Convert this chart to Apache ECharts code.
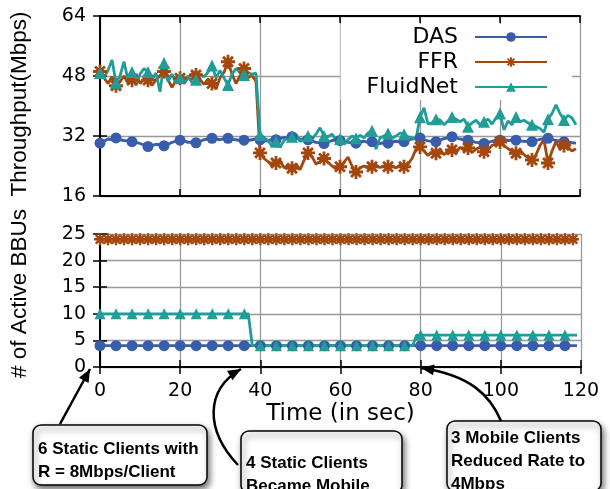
<!DOCTYPE html>
<html>
<head>
<meta charset="utf-8">
<script src="https://cdn.jsdelivr.net/npm/echarts@6/dist/echarts.min.js"></script>
<style>
  html, body { margin: 0; padding: 0; background: #fff; }
  #chart { width: 610px; height: 489px; }
</style>
</head>
<body>
<div id="chart"></div>
<script>
// time in seconds, one sample per second
const timeSec = [
  0, 1, 2, 3, 4, 5, 6, 7, 8, 9, 10, 11, 12, 13, 14, 15, 16, 17, 18, 19,
  20, 21, 22, 23, 24, 25, 26, 27, 28, 29, 30, 31, 32, 33, 34, 35, 36, 37, 38, 39,
  40, 41, 42, 43, 44, 45, 46, 47, 48, 49, 50, 51, 52, 53, 54, 55, 56, 57, 58, 59,
  60, 61, 62, 63, 64, 65, 66, 67, 68, 69, 70, 71, 72, 73, 74, 75, 76, 77, 78, 79,
  80, 81, 82, 83, 84, 85, 86, 87, 88, 89, 90, 91, 92, 93, 94, 95, 96, 97, 98, 99,
  100, 101, 102, 103, 104, 105, 106, 107, 108, 109, 110, 111, 112, 113, 114, 115, 116, 117, 118, 119
]

// throughput (Mbps)
const dasThroughput = [
  30.1, 30.6, 31.2, 31.0, 31.5, 31.0, 30.8, 30.7, 30.5, 30.3, 30.0, 29.6, 29.2, 29.5, 29.8, 29.6, 29.4, 29.8, 30.3, 30.6,
  30.9, 30.8, 30.3, 30.4, 30.2, 30.6, 31.0, 31.2, 31.4, 31.2, 31.0, 31.3, 31.4, 31.1, 31.0, 30.8, 30.9, 30.8, 31.0, 31.2,
  31.0, 30.6, 30.8, 31.1, 31.0, 31.3, 31.6, 31.5, 31.8, 31.4, 31.2, 31.0, 31.0, 30.7, 30.3, 30.2, 30.0, 30.4, 30.8, 31.0,
  30.8, 30.5, 30.3, 30.2, 30.1, 30.4, 30.6, 30.3, 30.5, 30.2, 30.0, 30.2, 30.1, 30.4, 30.6, 30.4, 30.5, 30.9, 31.2, 31.3,
  31.5, 31.0, 30.7, 30.6, 30.5, 30.9, 31.3, 31.5, 31.8, 31.5, 31.2, 31.0, 30.9, 30.6, 30.3, 30.2, 30.0, 30.3, 30.6, 30.8,
  30.9, 31.0, 30.8, 30.9, 30.9, 30.7, 30.6, 30.5, 30.5, 30.8, 31.1, 31.3, 31.4, 31.1, 30.8, 30.6, 30.5, 30.4, 30.2, 30.1
]
const ffrThroughput = [
  49.2, 47.5, 46.0, 47.8, 45.4, 46.5, 48.0, 46.2, 46.9, 48.5, 46.0, 47.2, 46.9, 45.5, 47.0, 48.0, 49.2, 47.0, 45.0, 46.8,
  47.4, 46.0, 47.5, 48.6, 48.3, 47.0, 45.8, 47.2, 46.0, 44.5, 47.5, 49.0, 51.8, 48.5, 46.0, 48.0, 50.0, 47.5, 48.2, 46.5,
  27.5, 26.0, 25.2, 24.0, 24.8, 25.5, 23.5, 24.2, 23.4, 24.5, 23.0, 25.5, 27.5, 26.5, 24.5, 25.2, 26.0, 25.0, 24.0, 23.2,
  23.8, 25.0, 26.4, 24.0, 22.4, 23.5, 24.0, 23.5, 23.8, 24.2, 23.6, 24.0, 23.8, 24.0, 23.5, 24.2, 23.8, 24.5, 26.0, 28.5,
  29.1, 28.0, 26.8, 27.8, 27.4, 28.5, 27.0, 28.0, 28.3, 27.5, 29.0, 28.2, 28.8, 27.6, 28.5, 29.0, 27.8, 28.3, 29.5, 29.8,
  30.4, 29.5, 28.6, 28.0, 27.4, 28.2, 27.0, 26.2, 25.6, 27.0, 29.5, 31.0, 24.8, 28.0, 30.5, 28.5, 29.5, 29.0, 28.0, 28.6
]
const fluidThroughput = [
  48.8, 47.5, 49.5, 52.3, 46.2, 48.0, 51.8, 47.0, 49.1, 45.5, 48.5, 50.0, 49.1, 47.0, 48.8, 43.8, 51.5, 46.5, 48.5, 46.0,
  47.5, 46.0, 48.0, 46.2, 47.0, 48.5, 47.8, 49.0, 50.8, 47.5, 49.5, 47.5, 45.6, 48.5, 50.0, 49.0, 48.3, 48.8, 48.5, 48.8,
  32.3, 31.5, 30.8, 29.3, 30.5, 29.0, 30.8, 31.5, 31.8, 32.5, 30.5, 31.5, 32.0, 31.2, 32.5, 34.2, 32.0, 31.8, 32.5, 31.0,
  31.2, 29.8, 31.0, 32.0, 31.4, 32.2, 31.5, 32.8, 33.4, 28.5, 31.5, 32.0, 32.7, 31.5, 32.0, 32.8, 32.5, 31.8, 31.5, 31.2,
  37.0, 39.5, 35.2, 35.5, 36.5, 36.3, 35.0, 36.0, 37.1, 36.5, 35.8, 36.5, 34.5, 35.5, 36.2, 35.0, 35.8, 36.5, 35.2, 36.8,
  38.0, 33.6, 36.0, 35.0, 37.1, 35.8, 36.2, 35.5, 35.0, 34.5, 34.0, 33.0, 36.5, 38.0, 40.3, 38.0, 36.3, 37.5, 36.8, 35.0
]

// number of active BBUs
const dasBBUs = [
  4, 4, 4, 4, 4, 4, 4, 4, 4, 4, 4, 4, 4, 4, 4, 4, 4, 4, 4, 4,
  4, 4, 4, 4, 4, 4, 4, 4, 4, 4, 4, 4, 4, 4, 4, 4, 4, 4, 4, 4,
  4, 4, 4, 4, 4, 4, 4, 4, 4, 4, 4, 4, 4, 4, 4, 4, 4, 4, 4, 4,
  4, 4, 4, 4, 4, 4, 4, 4, 4, 4, 4, 4, 4, 4, 4, 4, 4, 4, 4, 4,
  4, 4, 4, 4, 4, 4, 4, 4, 4, 4, 4, 4, 4, 4, 4, 4, 4, 4, 4, 4,
  4, 4, 4, 4, 4, 4, 4, 4, 4, 4, 4, 4, 4, 4, 4, 4, 4, 4, 4, 4
]
const ffrBBUs = [
  24, 24, 24, 24, 24, 24, 24, 24, 24, 24, 24, 24, 24, 24, 24, 24, 24, 24, 24, 24,
  24, 24, 24, 24, 24, 24, 24, 24, 24, 24, 24, 24, 24, 24, 24, 24, 24, 24, 24, 24,
  24, 24, 24, 24, 24, 24, 24, 24, 24, 24, 24, 24, 24, 24, 24, 24, 24, 24, 24, 24,
  24, 24, 24, 24, 24, 24, 24, 24, 24, 24, 24, 24, 24, 24, 24, 24, 24, 24, 24, 24,
  24, 24, 24, 24, 24, 24, 24, 24, 24, 24, 24, 24, 24, 24, 24, 24, 24, 24, 24, 24,
  24, 24, 24, 24, 24, 24, 24, 24, 24, 24, 24, 24, 24, 24, 24, 24, 24, 24, 24, 24
]
const fluidBBUs = [
  10, 10, 10, 10, 10, 10, 10, 10, 10, 10, 10, 10, 10, 10, 10, 10, 10, 10, 10, 10,
  10, 10, 10, 10, 10, 10, 10, 10, 10, 10, 10, 10, 10, 10, 10, 10, 10, 10, 4, 4,
  4, 4, 4, 4, 4, 4, 4, 4, 4, 4, 4, 4, 4, 4, 4, 4, 4, 4, 4, 4,
  4, 4, 4, 4, 4, 4, 4, 4, 4, 4, 4, 4, 4, 4, 4, 4, 4, 4, 4, 6,
  6, 6, 6, 6, 6, 6, 6, 6, 6, 6, 6, 6, 6, 6, 6, 6, 6, 6, 6, 6,
  6, 6, 6, 6, 6, 6, 6, 6, 6, 6, 6, 6, 6, 6, 6, 6, 6, 6, 6, 6
]

const throughputTicks = [16, 32, 48, 64]
const bbuTicks = [0, 5, 10, 15, 20, 25]
const timeTicks = [0, 20, 40, 60, 80, 100, 120]
const seriesNames = ['DAS', 'FFR', 'FluidNet']

const colors = { DAS: '#3a5cad', FFR: '#a3470d', FluidNet: '#1f9d96' }
// asterisk marker (plus + cross)
const starPath = 'path://M-1,-5L1,-5L1,5L-1,5Z M-5,-1L5,-1L5,1L-5,1Z ' +
  'M4.24,2.83L2.83,4.24L-4.24,-2.83L-2.83,-4.24Z M-2.83,4.24L-4.24,2.83L2.83,-4.24L4.24,-2.83Z'

const font = 'Liberation Sans'
const wideFont = 'DejaVu Sans'
const gridLine = { show: true, lineStyle: { color: '#999', width: 1.3 } }
const blackLine = { show: true, lineStyle: { color: '#000', width: 2 } }
const tickIn = { show: true, inside: true, length: 7, lineStyle: { color: '#000', width: 1.5 } }

function xAxisPair(grid, withLabels) {
  const base = {
    gridIndex: grid, type: 'value',
    min: timeTicks[0], max: timeTicks[timeTicks.length - 1], interval: timeTicks[1] - timeTicks[0],
    axisLine: blackLine, axisTick: tickIn,
  }
  return [
    Object.assign({}, base, {
      position: 'bottom',
      splitLine: gridLine,
      axisLabel: { show: withLabels, fontSize: 19, fontFamily: wideFont, color: '#000', margin: 15 },
      name: withLabels ? 'Time (in sec)' : '',
      nameLocation: 'middle', nameGap: 36,
      nameTextStyle: { fontSize: 23, fontFamily: wideFont, color: '#000' },
    }),
    Object.assign({}, base, { position: 'top', splitLine: { show: false }, axisLabel: { show: false } }),
  ]
}

function yAxisPair(grid, ticks, name, namePad) {
  const base = {
    gridIndex: grid, type: 'value',
    min: ticks[0], max: ticks[ticks.length - 1], interval: ticks[1] - ticks[0],
    axisLine: blackLine, axisTick: tickIn,
  }
  return [
    Object.assign({}, base, {
      position: 'left',
      splitLine: gridLine,
      axisLabel: { fontSize: 19, fontFamily: wideFont, color: '#000', margin: 14 },
      name: name, nameLocation: 'middle', nameGap: 69,
      nameTextStyle: { fontSize: 22.5, fontFamily: font, color: '#000', padding: [0, 0, 0, namePad] },
    }),
    Object.assign({}, base, { position: 'right', splitLine: { show: false }, axisLabel: { show: false } }),
  ]
}

function line(name, values, axis, symbol, size, every) {
  const color = colors[name]
  return {
    name: name, type: 'line',
    xAxisIndex: axis, yAxisIndex: axis,
    data: timeSec.map((t, i) => [t, values[i]]),
    symbol: symbol,
    showAllSymbol: true,
    symbolSize: (v, p) => (p.dataIndex % every === 0 ? size : 0),
    lineStyle: { color: color, width: 2.8 },
    itemStyle: { color: color },
    animation: false,
  }
}

const myChart = echarts.init(document.getElementById('chart'))
myChart.setOption({
  backgroundColor: '#fff',
  animation: false,
  grid: [
    { left: 97, top: 16, width: 483, height: 180 },
    { left: 96, top: 234, width: 485, height: 133 },
  ],
  xAxis: [...xAxisPair(0, false), ...xAxisPair(1, true)],
  yAxis: [...yAxisPair(0, throughputTicks, 'Throughput(Mbps)', 4), ...yAxisPair(1, bbuTicks, '# of Active BBUs', 14)],
  legend: {
    data: seriesNames,
    orient: 'vertical', align: 'right',
    right: 38, top: 24,
    itemWidth: 72, itemHeight: 12, itemGap: 3,
    backgroundColor: '#fff',
    padding: [2, 24, 2, 26],
    textStyle: { fontSize: 22, fontFamily: wideFont, color: '#000', padding: [0, 12, 0, 0] },
  },
  series: [
    line('DAS', dasThroughput, 0, 'circle', 11, 4),
    line('FFR', ffrThroughput, 0, starPath, 14, 4),
    line('FluidNet', fluidThroughput, 0, 'triangle', 12, 4),
    // mirror axes take indices 1 and 3, bottom plot uses index 2
    line('DAS', dasBBUs, 2, 'circle', 11, 4),
    line('FFR', ffrBBUs, 2, starPath, 12, 2),
    line('FluidNet', fluidBBUs, 2, 'triangle', 11, 4),
  ],
})

// callout boxes with arrows pointing at the time axis
const callouts = [
  { box: [33, 425, 174, 60], textAt: [38, 438], lines: ['6 Static Clients with', 'R = 8Mbps/Client'],
    path: [[60, 424], [90, 369]] },
  { box: [241, 431, 161, 62], textAt: [246, 452], lines: ['4 Static Clients', 'Became Mobile'],
    path: [[238, 465], [205, 430], [205, 390], [241, 369]] },
  { box: [447, 421, 154, 70], textAt: [451, 427], lines: ['3 Mobile Clients', 'Reduced Rate to', '4Mbps'],
    path: [[501, 421], [490, 395], [470, 375], [421, 368]] },
]

function arrowHead(tip, from) {
  const dx = tip[0] - from[0], dy = tip[1] - from[1]
  const len = Math.hypot(dx, dy)
  const ux = dx / len, uy = dy / len
  const bx = tip[0] - ux * 13, by = tip[1] - uy * 13
  return [tip, [bx - uy * 5.5, by + ux * 5.5], [bx + uy * 5.5, by - ux * 5.5]]
}

const graphics = []
callouts.forEach((c) => {
  const p = c.path
  const tip = p[p.length - 1]
  if (p.length === 2) {
    graphics.push({ type: 'line', shape: { x1: p[0][0], y1: p[0][1], x2: tip[0], y2: tip[1] },
      style: { stroke: '#000', lineWidth: 2.5 }, z: 100 })
  } else {
    graphics.push({ type: 'bezierCurve',
      shape: { x1: p[0][0], y1: p[0][1], cpx1: p[1][0], cpy1: p[1][1], cpx2: p[2][0], cpy2: p[2][1], x2: tip[0], y2: tip[1] },
      style: { stroke: '#000', lineWidth: 2.5, fill: null }, z: 100 })
  }
  graphics.push({ type: 'polygon', shape: { points: arrowHead(tip, p[p.length - 2]) },
    style: { fill: '#000' }, z: 101 })
  graphics.push({ type: 'rect',
    shape: { x: c.box[0], y: c.box[1], width: c.box[2], height: c.box[3], r: 8 },
    style: { fill: '#fff', stroke: '#000', lineWidth: 1.5,
      shadowBlur: 6, shadowOffsetX: 2, shadowOffsetY: 4, shadowColor: 'rgba(0,0,0,0.55)' }, z: 102 })
  graphics.push({ type: 'text', x: c.textAt[0], y: c.textAt[1], z: 103,
    style: { text: c.lines.join('\n'), fill: '#000', fontSize: 17, fontWeight: 'bold',
      fontFamily: font, lineHeight: 23, verticalAlign: 'top' } })
})
myChart.setOption({ graphic: graphics })
</script>
</body>
</html>
